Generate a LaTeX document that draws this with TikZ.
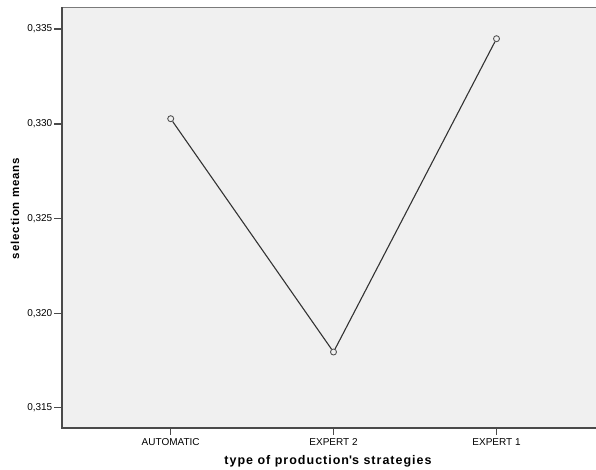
\documentclass[tikz,border=0pt]{standalone}
\usepackage{fontspec}
\setmainfont{Liberation Sans}
\newfontfamily\titlefont[LetterSpace=8]{Liberation Sans}
\usetikzlibrary{positioning}

\definecolor{plotbg}{HTML}{F0F0F0}
\definecolor{axisdark}{HTML}{4A4A4A}
\definecolor{framegray}{HTML}{7A7A7A}
\definecolor{meanline}{HTML}{333333}

\tikzset{
  ticklabel/.style={font=\fontsize{10}{12}\selectfont, text=black, inner sep=1pt},
  axistitle/.style={font=\titlefont\fontsize{12.5}{14}\selectfont\bfseries, text=black, inner sep=0pt},
  meanpt/.style={circle, draw=meanline!85, line width=0.9pt, fill=plotbg, inner sep=0pt, minimum size=6pt},
  tickmark/.style={axisdark, line width=1.2pt}
}

\begin{document}
\begin{tikzpicture}[x=1pt, y=-1pt]
        \useasboundingbox (0, 0) rectangle (596, 470);

        % plot area
        \fill[plotbg] (62, 7.5) rectangle (596, 428);
        \draw[framegray, line width=1.4pt] (62, 7.5) -- (596, 7.5);
        \draw[axisdark, line width=1.2pt] (62, 7.5) -- (62, 428) -- (596, 428);

        % value axis
        \node[ticklabel, anchor=east] at (53.5, 29)(y335){0,335};
        \node[ticklabel, anchor=east] at (53.5, 124)(y330){0,330};
        \node[ticklabel, anchor=east] at (53.5, 218.5)(y325){0,325};
        \node[ticklabel, anchor=east] at (53.5, 313.3)(y320){0,320};
        \node[ticklabel, anchor=east] at (53.5, 407.8)(y315){0,315};
        \foreach \ty in {29, 124, 218.5, 313.3, 407.8}
            \draw[tickmark] (54, \ty) -- (62, \ty);

        % category axis
        \node[ticklabel] at (170.7, 442.5)(xAuto){AUTOMATIC};
        \node[ticklabel] at (333.5, 442.5)(xExp2){EXPERT 2};
        \node[ticklabel] at (496.5, 442.5)(xExp1){EXPERT 1};
        \foreach \tx in {170.7, 333.5, 496.5}
            \draw[tickmark] (\tx, 428) -- (\tx, 435);

        % titles
        \node[axistitle] at (328, 461)(xtitle){type of production\textquotesingle s strategies};
        \node[axistitle, font=\titlefont\fontsize{11.5}{13}\selectfont\bfseries, rotate=90] at (15, 208.5)(ytitle){selection means};

        % means
        \node[meanpt] at (170.7, 118.7)(pAuto){};
        \node[meanpt] at (333.5, 352)(pExp2){};
        \node[meanpt] at (496.5, 38.7)(pExp1){};

        \path[draw=meanline, line width=1.1pt]
        (pAuto) -- (pExp2)
        (pExp2) -- (pExp1)
        ;
    \end{tikzpicture}
\end{document}
